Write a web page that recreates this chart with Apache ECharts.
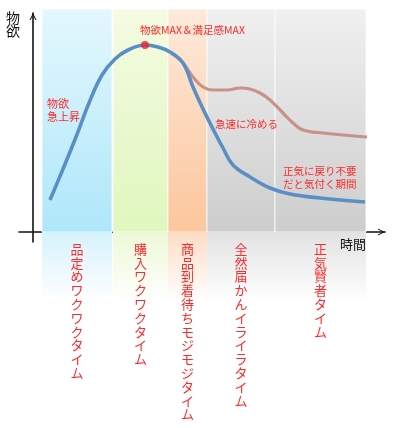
<!DOCTYPE html>
<html>
<head>
<meta charset="utf-8">
<script src="https://cdn.jsdelivr.net/npm/echarts@6/dist/echarts.min.js"></script>
<style>
html,body{margin:0;padding:0;background:#fff;}
#c{width:399px;height:428px;}
</style>
</head>
<body>
<div id="c"></div>
<script>
// Phase bands: [start, end] on the time axis
const bandStart = [9, 80, 135, 174, 242];
const bandEnd   = [79, 135, 174, 242, 333];
const bandLabels = [
  '品定めワクワクタイム',
  '購入ワクワクタイム',
  '商品到着待ちモジモジタイム',
  '全然届かんイライラタイム',
  '正気賢者タイム'
];
// Desire curve (real) and desire curve (imagined, stays high)
const desireX = [17, 30, 43, 56, 69, 82, 95, 112, 125, 137, 150, 160, 170, 180, 190, 200, 217, 237, 257, 287, 332];
const desireY = [32, 63, 95, 129, 157, 173, 182, 187, 185, 180, 169, 145, 123, 103, 84, 67, 55, 44, 38, 34, 30];
const keepX = [137, 150, 160, 170, 180, 194, 207, 217, 227, 237, 250, 260, 270, 290, 334];
const keepY = [180, 169, 155, 145, 142, 142, 144, 143, 139, 132, 119, 109, 102, 99, 95];
const peak = [112, 187];
const bandTop = 223;
const bandBottom = -70;

const topColors = ['#e4f7fd', '#f4fbe2', '#fdeadb', '#f0f0f0', '#f0f0f0'];
const midColors = ['#aee7fa', '#e0f7be', '#fcc69c', '#cdcdcd', '#cdcdcd'];
const lowColors = ['#d6f2fc', '#ecf9d8', '#fddcc6', '#e2e2e2', '#e2e2e2'];

const FONT = '"Noto Sans CJK JP", "Noto Sans", sans-serif';
const RED = '#ff2a2a';
const ARROW = 'path://M0,10 L5,0 L10,10 L8.4,10 L5,3.2 L1.6,10 Z';

const chart = echarts.init(document.getElementById('c'));
const bandData = bandStart.map((s, i) => [s, bandEnd[i], i]);

chart.setOption({
  animation: false,
  backgroundColor: '#fff',
  grid: {left: 19, right: 14, top: 13, bottom: 186, containLabel: false},
  xAxis: {
    type: 'value', min: -14, max: 352,
    axisLine: {show: true, onZero: true, symbol: ['none', ARROW], symbolSize: [9, 7], symbolOffset: [0, -3.5],
      lineStyle: {color: '#111', width: 1.6}},
    axisTick: {show: false}, axisLabel: {show: false}, splitLine: {show: false}
  },
  yAxis: {
    type: 'value', min: -10, max: 219,
    axisLine: {show: true, onZero: true, symbol: ['none', ARROW], symbolSize: [9, 7], symbolOffset: [0, -3.5],
      lineStyle: {color: '#111', width: 1.6}},
    axisTick: {show: false}, axisLabel: {show: false}, splitLine: {show: false}
  },
  series: [
    {
      type: 'custom', z: 1, clip: false, silent: true,
      data: bandData,
      renderItem: function (params, api) {
        const x0 = api.value(0), x1 = api.value(1), i = api.value(2);
        const pTop = api.coord([x0, bandTop]);
        const pMid = api.coord([x1, 0]);
        const pLow = api.coord([x1, bandBottom]);
        const w = pMid[0] - pTop[0];
        const cx = (pTop[0] + pMid[0]) / 2;
        return {
          type: 'group',
          children: [
            {type: 'rect', shape: {x: pTop[0], y: pTop[1], width: w, height: pMid[1] - pTop[1]},
              style: {fill: new echarts.graphic.LinearGradient(0, 0, 0, 1, [
                {offset: 0, color: topColors[i]}, {offset: 1, color: midColors[i]}]),
                stroke: 'rgba(255,255,255,0.8)', lineWidth: 1}},
            {type: 'rect', shape: {x: pTop[0], y: pMid[1], width: w, height: pLow[1] - pMid[1]},
              style: {fill: new echarts.graphic.LinearGradient(0, 0, 0, 1, [
                {offset: 0, color: lowColors[i]}, {offset: 1, color: 'rgba(255,255,255,1)'}])}},
            {type: 'text', z2: 10, style: {
              text: bandLabels[i].split('').join('\n'),
              x: cx, y: pMid[1] + 10, align: 'center', verticalAlign: 'top',
              fill: RED, font: '13px ' + FONT, lineHeight: 13.8}}
          ]
        };
      }
    },
    {
      type: 'line', z: 3, smooth: 0.4, symbol: 'none',
      data: keepX.map((x, i) => [x, keepY[i]]),
      lineStyle: {color: '#c8918b', width: 3.2}
    },
    {
      type: 'line', z: 4, smooth: 0.4, symbol: 'none',
      data: desireX.map((x, i) => [x, desireY[i]]),
      lineStyle: {color: '#5a8fc6', width: 3.6}
    },
    {
      type: 'scatter', z: 5, symbolSize: 8,
      data: [peak],
      itemStyle: {color: '#ee2233'}
    }
  ],
  graphic: [
    {type: 'text', left: 6, top: 11, z: 10, style: {text: '物\n欲', font: '14px ' + FONT, lineHeight: 13, fill: '#111'}},
    {type: 'text', left: 340, top: 238, z: 10, style: {text: '時間', font: '13px ' + FONT, fill: '#111'}},
    {type: 'text', left: 140, top: 25, z: 10, style: {text: '物欲MAX＆満足感MAX', font: '10.5px ' + FONT, fill: RED}},
    {type: 'text', left: 47, top: 97, z: 10, style: {text: '物欲\n急上昇', font: '11px ' + FONT, lineHeight: 13.5, fill: RED}},
    {type: 'text', left: 215, top: 119, z: 10, style: {text: '急速に冷める', font: '10.5px ' + FONT, fill: RED}},
    {type: 'text', left: 283, top: 164, z: 10, style: {text: '正気に戻り不要\nだと気付く期間', font: '10.5px ' + FONT, lineHeight: 13.5, fill: RED}}
  ]
});
</script>
</body>
</html>
